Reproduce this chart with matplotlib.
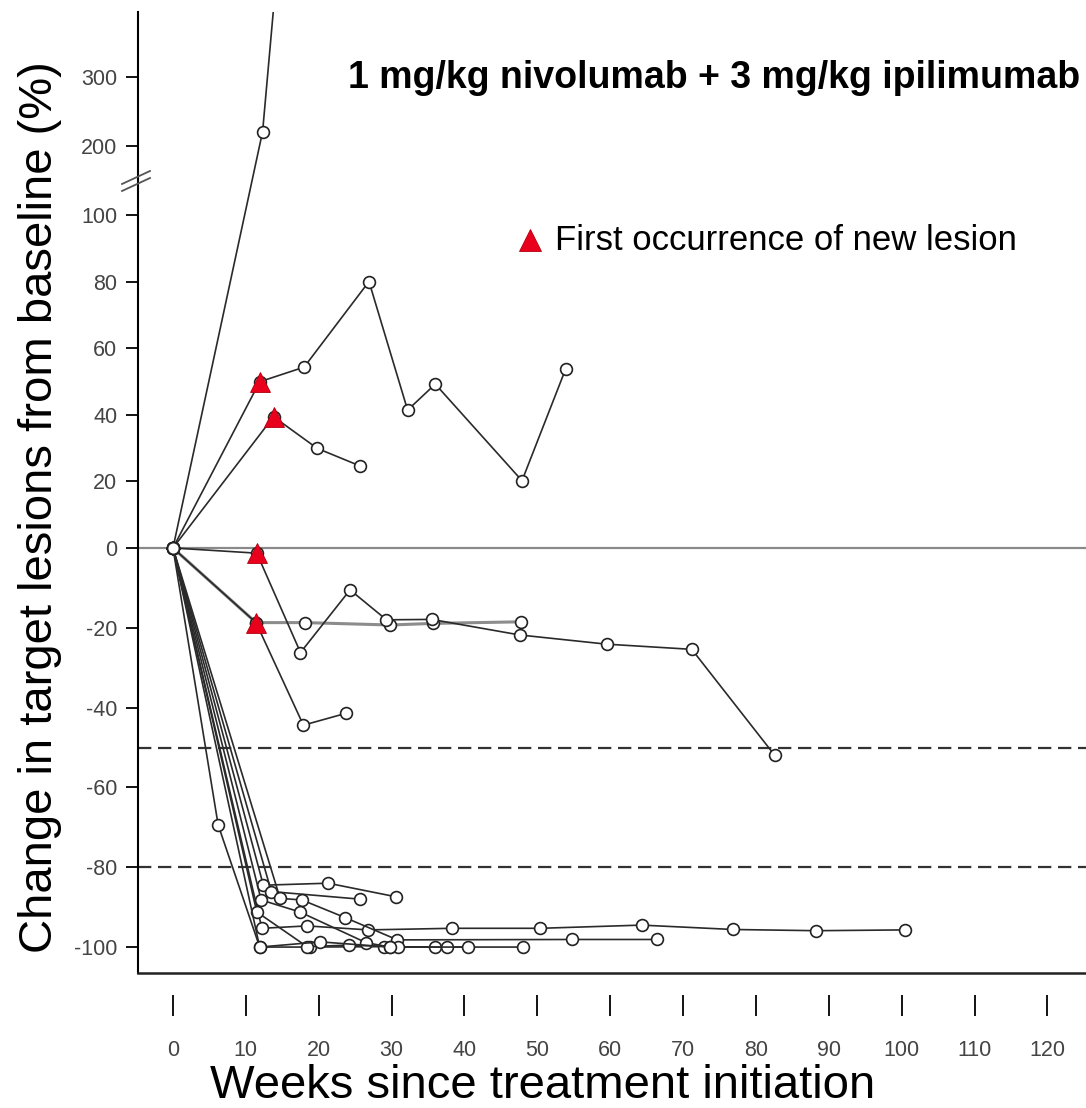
import numpy as np
import matplotlib
matplotlib.use("Agg")
import matplotlib.pyplot as plt
from matplotlib.lines import Line2D

# ---- data (weeks, % change) ----
p01_w = [0, 12.3, 16.0]
p01_v = [0, 220.7, 660]

p02_w = [0, 11.9, 18.0, 26.9, 32.2, 36.0, 47.9, 53.9]
p02_v = [0, 49.9, 54.3, 80.0, 41.4, 49.2, 20.2, 53.8]

p03_w = [0, 13.8, 19.8, 25.7]
p03_v = [0, 39.4, 29.9, 24.6]

p04_w = [0, 11.5, 17.5, 24.3, 29.3, 35.5, 47.6, 59.5, 71.2, 82.6]
p04_v = [0, -1.3, -26.2, -10.5, -18.0, -17.9, -21.8, -24.1, -25.4, -52.0]

p05_w = [0, 11.4, 18.1, 29.8, 35.7, 47.8]
p05_v = [0, -18.7, -18.7, -19.3, -18.9, -18.5]

p06_w = [0, 11.4, 17.9, 23.8]
p06_v = [0, -18.7, -44.4, -41.4]

n01_w = [0, 6.2, 11.9, 18.8, 28.9, 36.0, 48.1]
n01_v = [0, -69.4, -100, -100, -99.9, -100, -100]

n02_w = [0, 12.2, 18.4, 26.8, 38.3, 50.4, 64.3, 76.9, 88.3, 100.5]
n02_v = [0, -95.3, -94.7, -95.7, -95.3, -95.3, -94.5, -95.6, -95.9, -95.7]

n03_w = [0, 12.4, 21.3, 30.6]
n03_v = [0, -84.5, -84.0, -87.4]

n04_w = [0, 13.5, 25.7]
n04_v = [0, -86.1, -88.0]

n05_w = [0, 14.7, 17.7, 23.6, 30.8, 54.7, 66.4]
n05_v = [0, -87.8, -88.2, -92.6, -98.2, -98.1, -98.1]

n06_w = [0, 12.1, 17.4, 26.5, 29.8, 37.6]
n06_v = [0, -88.2, -91.2, -98.9, -100, -100]

n07_w = [0, 11.5, 18.4, 24.2, 30.9, 40.5]
n07_v = [0, -91.2, -99.9, -99.5, -100, -100]

n08_w = [0, 11.9, 20.2, 29.8]
n08_v = [0, -100, -98.7, -100]

# first occurrence of new lesion
tri_w = [11.9, 13.8, 11.5, 11.4]
tri_v = [49.9, 39.4, -1.3, -18.7]

ytick_vals = [-100, -80, -60, -40, -20, 0, 20, 40, 60, 80, 100, 200, 300]
xtick_vals = list(range(0, 121, 10))

fam = ['Liberation Sans', 'DejaVu Sans']


# broken y axis: three linear pieces
def fwd(y):
    y = np.asarray(y, dtype=float)
    return np.where(y < 0, y * 3.99,
                    np.where(y <= 100, y * 3.33, 333 + (y - 100) * 0.69))


def inv(p):
    p = np.asarray(p, dtype=float)
    return np.where(p < 0, p / 3.99,
                    np.where(p <= 333, p / 3.33, 100 + (p - 333) / 0.69))


W, H = 1086, 1108
fig = plt.figure(figsize=(W / 100, H / 100), dpi=100)
ax = fig.add_axes([138 / W, 1 - 973 / H, 1 - 138 / W, (973 - 12) / H])
ax.set_yscale('function', functions=(fwd, inv))
ax.set_ylim(-106.5, 394)
ax.set_xlim(-4.8, 125.3)

ax.axhline(0, color='#8a8a8a', lw=1.6, zorder=1)
ax.axhline(-50, color='#333333', lw=1.6, ls=(0, (6, 3)), zorder=1)
ax.axhline(-80, color='#333333', lw=1.6, ls=(0, (6, 3)), zorder=1)

circ = dict(marker='o', ms=8.5, mfc='white', mec='#222222', mew=1.2)

ax.plot(p05_w, p05_v, color='#8c8c8c', lw=2.2, zorder=2, **circ)

series = [(p01_w, p01_v), (p02_w, p02_v), (p03_w, p03_v), (p04_w, p04_v),
          (p06_w, p06_v), (n01_w, n01_v), (n02_w, n02_v), (n03_w, n03_v),
          (n04_w, n04_v), (n05_w, n05_v), (n06_w, n06_v), (n07_w, n07_v),
          (n08_w, n08_v)]
for w, v in series:
    ax.plot(w, v, color='#2a2a2a', lw=1.2, zorder=3, **circ)

ax.plot([0], [0], zorder=5, **circ)
ax.plot(tri_w, tri_v, ls='none', marker='^', ms=15, color='#e8001c',
        mec='#b00010', mew=0.6, zorder=6)

# axes styling
for s in ['top', 'right']:
    ax.spines[s].set_visible(False)
ax.spines['left'].set_linewidth(1.5)
ax.spines['bottom'].set_position(('outward', 16))
ax.spines['bottom'].set_visible(False)
ax.plot([0, 1], [0, 0], transform=ax.transAxes, color='#222222', lw=1.8,
        clip_on=False, zorder=4)

ax.set_yticks(ytick_vals)
ax.set_yticklabels([str(t) for t in ytick_vals])
ax.set_xticks(xtick_vals)
ax.set_xticklabels([str(t) for t in xtick_vals])
ax.yaxis.set_minor_locator(matplotlib.ticker.NullLocator())
ax.tick_params(axis='y', direction='out', length=9, width=1.3, pad=6,
               labelsize=15.5, labelcolor='#444444')
ax.tick_params(axis='x', direction='out', length=15, width=1.3, pad=17,
               labelsize=15.5, labelcolor='#444444')
for lab in ax.get_xticklabels() + ax.get_yticklabels():
    lab.set_family(fam)

# axis break marks
for dy in (0, 7):
    fig.add_artist(Line2D([122 / W, 150 / W],
                          [1 - (184 + dy) / H, 1 - (171 + dy) / H],
                          color='#555555', lw=1.3))

fig.text(1080 / W, 1 - 78 / H, '1 mg/kg nivolumab + 3 mg/kg ipilimumab',
         ha='right', va='center', fontsize=27, fontweight='bold', family=fam)
ax.plot([530 / W], [1 - 240 / H], transform=fig.transFigure, marker='^',
        ms=16, color='#e8001c', mec='#b00010', mew=0.6, clip_on=False)
fig.text(555 / W, 1 - 240 / H, 'First occurrence of new lesion',
         ha='left', va='center', fontsize=25, family=fam)

fig.text(40 / W, 1 - 507 / H, 'Change in target lesions from baseline (%)',
         rotation=90, ha='center', va='center', fontsize=34, family=fam)
fig.text(543 / W, 1 - 1098 / H, 'Weeks since treatment initiation',
         ha='center', va='baseline', fontsize=34, family=fam)

fig.savefig('out.png', dpi=100, facecolor='white')
